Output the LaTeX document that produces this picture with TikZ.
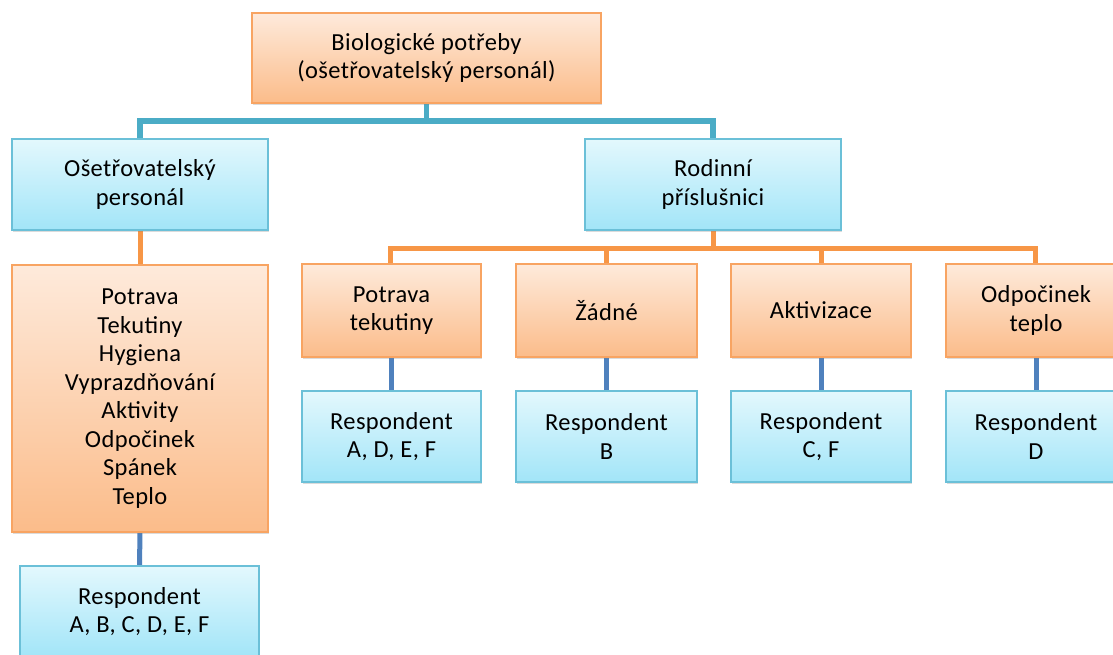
\documentclass[tikz,border=0pt]{standalone}
\usepackage{fontspec}
\setmainfont[LetterSpace=1.5]{Carlito}
\usetikzlibrary{shadows,backgrounds}

\definecolor{tealline}{HTML}{4BACC6}
\definecolor{orangeline}{HTML}{F79646}
\definecolor{blueline}{HTML}{4F81BD}
\definecolor{orangeedge}{HTML}{F8A462}
\definecolor{orangetop}{HTML}{FEEADB}
\definecolor{orangebot}{HTML}{FBBC8A}
\definecolor{blueedge}{HTML}{6BC0D8}
\definecolor{bluetop}{HTML}{E3F8FD}
\definecolor{bluebot}{HTML}{A2E5F8}

\tikzset{
  box/.style={rectangle, line width=1.2pt, align=center, inner sep=2pt,
    font=\fontsize{24.5}{28.5}\selectfont,
    drop shadow={shadow xshift=1.2pt, shadow yshift=-1.6pt, opacity=0.28}},
  orangebox/.style={box, draw=orangeedge, top color=orangetop, bottom color=orangebot},
  bluebox/.style={box, draw=blueedge, top color=bluetop, bottom color=bluebot},
  teallink/.style={draw=tealline, line width=5.5pt},
  orangelink/.style={draw=orangeline, line width=5pt},
  bluelink/.style={draw=blueline, line width=5pt},
}

\begin{document}
\begin{tikzpicture}[x=1pt,y=-1pt]
\useasboundingbox (0,0) rectangle (1113,655);
\begin{scope}[on background layer]
  \fill[white] (0,0) rectangle (1113,655);
\end{scope}
\clip (0,0) rectangle (1113,655);

% root
\node[orangebox, minimum width=349pt, minimum height=90pt] (root) at (426.5,58)
  {Biologické potřeby\\(ošetřovatelský personál)};

% second level
\node[bluebox, minimum width=256pt, minimum height=91pt] (staff) at (140,184.5)
  {Ošetřovatelský\\personál};
\node[bluebox, minimum width=256pt, minimum height=91pt] (family) at (713,184.5)
  {Rodinní\\příslušnici};

% staff branch
\node[orangebox, minimum width=256pt, minimum height=267pt] (needs) at (140,398.5)
  {Potrava\\Tekutiny\\Hygiena\\Vyprazdňování\\Aktivity\\Odpočinek\\Spánek\\Teplo};
\node[bluebox, minimum width=239pt, minimum height=91pt] (resp0) at (139.5,611.5)
  {Respondent\\A, B, C, D, E, F};

% family branch
\node[orangebox, minimum width=179pt, minimum height=93pt] (c1) at (391.5,310.5) {Potrava\\tekutiny};
\node[orangebox, minimum width=181pt, minimum height=93pt] (c2) at (606.5,310.5) {Žádné};
\node[orangebox, minimum width=180pt, minimum height=93pt] (c3) at (821,310.5) {Aktivizace};
\node[orangebox, minimum width=180pt, minimum height=93pt] (c4) at (1036,310.5) {Odpočinek\\teplo};

\node[bluebox, minimum width=179pt, minimum height=91pt] (r1) at (391.5,436.5) {Respondent\\A, D, E, F};
\node[bluebox, minimum width=181pt, minimum height=91pt] (r2) at (606.5,436.5) {Respondent\\B};
\node[bluebox, minimum width=180pt, minimum height=91pt] (r3) at (821,436.5) {Respondent\\C, F};
\node[bluebox, minimum width=180pt, minimum height=91pt] (r4) at (1036,436.5) {Respondent\\D};

% connectors
\coordinate (bus1) at (0,121);
\coordinate (bus2) at (0,248.5);
\begin{scope}[on background layer]
  \draw[teallink] (root.south) -- (root.south |- bus1) -| (staff.north);
  \draw[teallink] (root.south |- bus1) -| (family.north);
  \draw[orangelink] (staff.south) -- (needs.north);
  \draw[bluelink] (needs.south) -- (resp0.north);
  \draw[orangelink] (family.south) -- (family.south |- bus2);
  \draw[orangelink] ([xshift=-1.5pt]c1.north) |- (family.south |- bus2) -| ([xshift=-1pt]c4.north);
  \draw[orangelink] (c2.north) -- (c2.north |- bus2);
  \draw[orangelink] (c3.north) -- (c3.north |- bus2);
  \draw[bluelink] (c1.south) -- (r1.north);
  \draw[bluelink] (c2.south) -- (r2.north);
  \draw[bluelink] (c3.south) -- (r3.north);
  \draw[bluelink] (c4.south) -- (r4.north);
\end{scope}
\end{tikzpicture}
\end{document}
